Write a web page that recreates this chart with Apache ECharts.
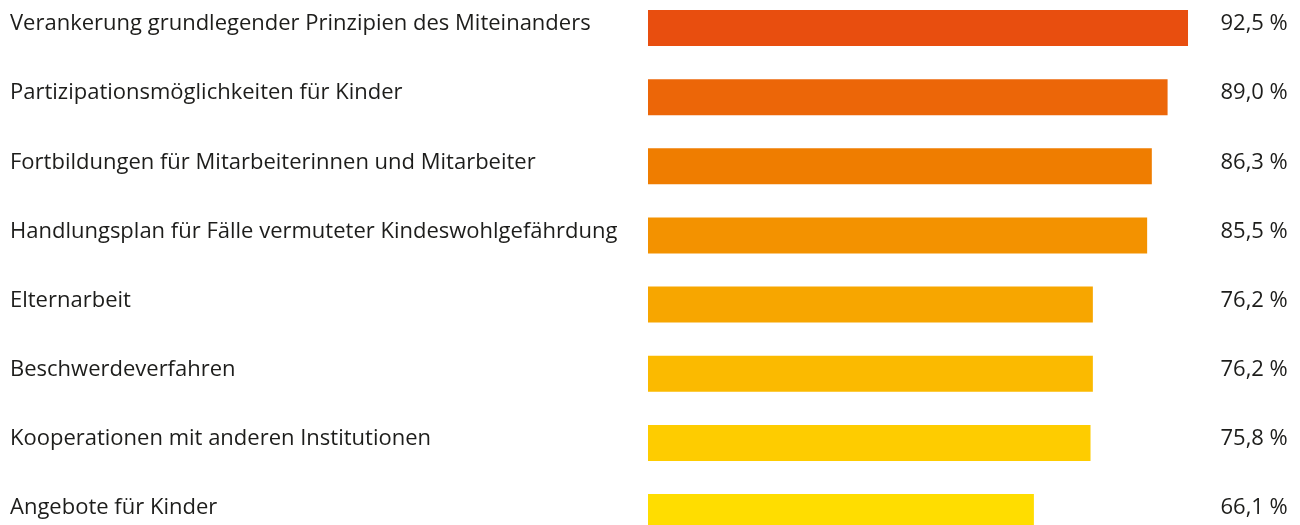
<!DOCTYPE html>
<html>
<head>
<meta charset="utf-8">
<script src="https://cdn.jsdelivr.net/npm/echarts@6/dist/echarts.min.js"></script>
<style>
  html, body { margin: 0; padding: 0; background: #fff; }
  #chart { width: 1300px; height: 525px; }
</style>
</head>
<body>
<div id="chart"></div>
<script>
const categories = [
  "Verankerung grundlegender Prinzipien des Miteinanders",
  "Partizipationsmöglichkeiten für Kinder",
  "Fortbildungen für Mitarbeiterinnen und Mitarbeiter",
  "Handlungsplan für Fälle vermuteter Kindeswohlgefährdung",
  "Elternarbeit",
  "Beschwerdeverfahren",
  "Kooperationen mit anderen Institutionen",
  "Angebote für Kinder"
];
const values = [92.5, 89.0, 86.3, 85.5, 76.2, 76.2, 75.8, 66.1];
const barColors = ["#E84E0F", "#EC6608", "#EF7D00", "#F39200", "#F7A600", "#FBBA00", "#FECC00", "#FFDD00"];

const fmt = v => v.toFixed(1).replace(".", ",") + " %";

const chart = echarts.init(document.getElementById("chart"));
chart.setOption({
  animation: false,
  textStyle: { fontFamily: "Open Sans" },
  grid: { left: 648, width: 583.8, top: -6.6, height: 553.2, outerBoundsMode: "none", containLabel: false },
  xAxis: { type: "value", min: 0, max: 100, show: false },
  yAxis: [
    {
      type: "category",
      data: categories,
      inverse: true,
      axisLine: { show: false },
      axisTick: { show: false },
      axisLabel: { align: "left", verticalAlign: "bottom", lineHeight: 8, margin: 638, fontSize: 22, color: "#1d1d1b" }
    },
    {
      type: "category",
      data: values.map(fmt),
      inverse: true,
      position: "right",
      axisLine: { show: false },
      axisTick: { show: false },
      axisLabel: { align: "right", verticalAlign: "bottom", lineHeight: 8, margin: 56, fontSize: 22, color: "#1d1d1b" }
    }
  ],
  series: [{
    type: "bar",
    data: values.map((v, i) => ({ value: v, itemStyle: { color: barColors[i] } })),
    barWidth: 36
  }]
});
</script>
</body>
</html>
